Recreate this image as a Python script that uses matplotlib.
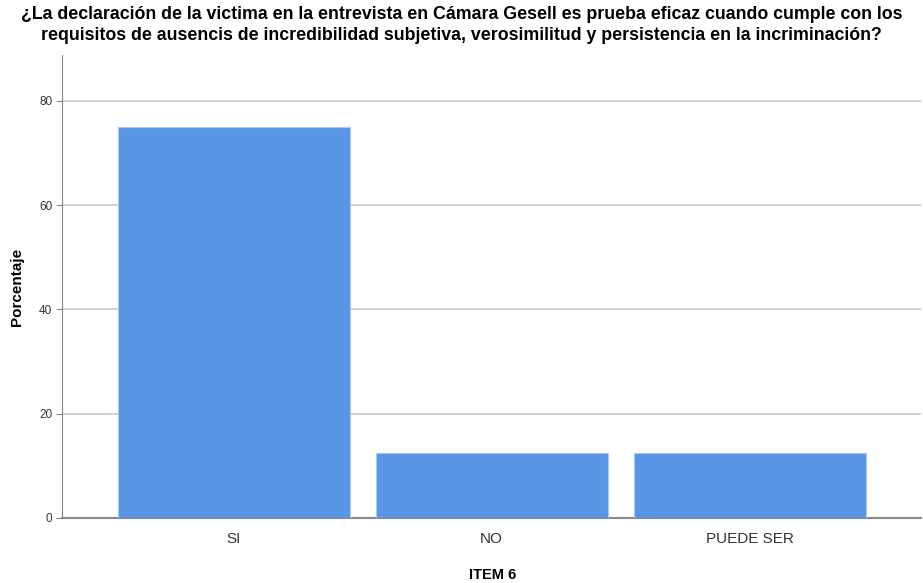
import numpy as np
import matplotlib
matplotlib.use('Agg')
import matplotlib.pyplot as plt

plt.rcParams['font.family'] = ['Liberation Sans', 'DejaVu Sans']

# datos
categorias = ['SI', 'NO', 'PUEDE SER']
porcentajes = [75.0, 12.5, 12.5]
ticks_y = [0, 20, 40, 60, 80]

titulo = ('¿La declaración de la victima en la entrevista en Cámara Gesell es prueba eficaz cuando cumple con los\n'
          'requisitos de ausencis de incredibilidad subjetiva, verosimilitud y persistencia en la incriminación?')

fig = plt.figure(figsize=(9.23, 5.83), dpi=100)
ax = fig.add_axes([0.0672, 0.1115, 0.931, 0.7942])

x = np.arange(len(categorias))
ax.bar(x, porcentajes, width=0.9, color='#5896e4', edgecolor='#a9c8f0',
       linewidth=0.8, zorder=3)

ax.set_xlim(-0.666, 2.666)
ax.set_ylim(0, 88.8)
ax.set_yticks(ticks_y)
ax.set_yticklabels([str(t) for t in ticks_y], fontsize=8.5, color='#333333')
ax.set_xticks(x)
ax.set_xticklabels(categorias, fontsize=11, color='#333333')

ax.grid(axis='y', color='#c8c8c8', linewidth=1.2, zorder=0)
ax.tick_params(axis='y', length=4, color='#888888', pad=3)
ax.tick_params(axis='x', length=0, pad=10)

for s in ['top', 'right']:
    ax.spines[s].set_visible(False)
ax.spines['left'].set_color('#888888')
ax.spines['bottom'].set_color('#888888')
ax.spines['bottom'].set_linewidth(1.5)

ax.set_ylabel('Porcentaje', fontsize=11, fontweight='bold', labelpad=11)

# etiqueta del eje x en posición fija
fig.text(0.534, 1 - 575 / 583, 'ITEM 6', ha='center', va='center',
         fontsize=10.5, fontweight='bold')

fig.text(0.5, 0.99, titulo, ha='center', va='top', fontsize=12.8,
         fontweight='bold', linespacing=1.3)

fig.savefig('out.png', dpi=100, facecolor='white')
